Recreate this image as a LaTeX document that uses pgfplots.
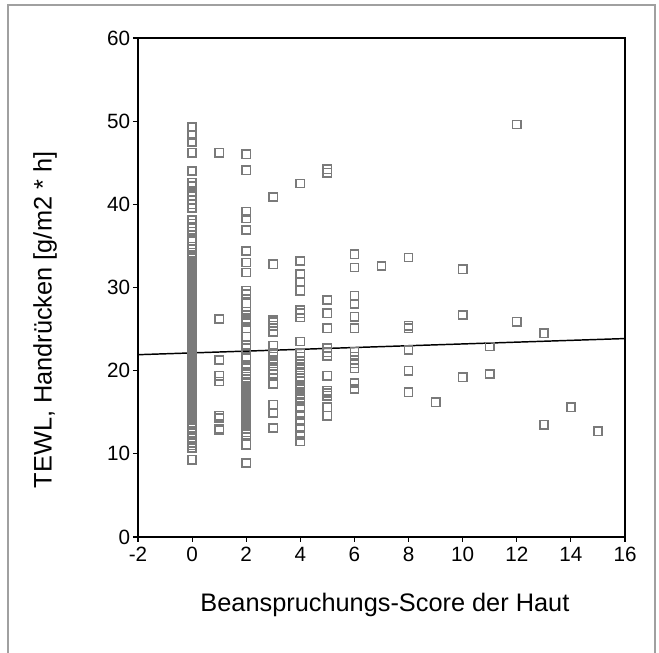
\documentclass[border=0pt]{standalone}
\usepackage{fontspec}
\setmainfont{Liberation Sans}
\usepackage{pgfplots}
\pgfplotsset{compat=1.18}
\definecolor{markgray}{HTML}{7A7A7A}
\definecolor{framegray}{HTML}{A0A0A0}
\newcommand{\tlfont}{\fontsize{15.5pt}{15.5pt}\selectfont}
\begin{document}
\begin{tikzpicture}[font=\tlfont]
\path[use as bounding box] (0,0) rectangle (494.25pt,489pt);
\draw[framegray, line width=1.5pt] (6pt,-2pt) -- (6pt,485.25pt) -- (491.25pt,485.25pt) -- (491.25pt,-2pt);
\begin{axis}[
  at={(103.5pt,86.25pt)}, anchor=south west,
  scale only axis, width=365.25pt, height=374.25pt,
  xmin=-2, xmax=16, ymin=0, ymax=60,
  xtick={-2,0,...,16}, ytick={0,10,...,60},
  xtick pos=bottom, ytick pos=left,
  tick align=outside, major tick length=3.75pt,
  tick style={black, line width=0.9pt},
  axis line style={black, line width=0.9pt},
  /pgf/number format/assume math mode=true,
  xticklabel={\tlfont\pgfmathprintnumber[int detect]{\tick}},
  yticklabel={\tlfont\pgfmathprintnumber[int detect]{\tick}},
  xticklabel style={font=\tlfont, inner sep=3.5pt},
  yticklabel style={font=\tlfont, inner sep=2pt},
  xlabel={Beanspruchungs-Score der Haut},
  ylabel={TEWL, Handrücken [g/m2 * h]},
  xlabel style={font=\fontsize{19pt}{19pt}\selectfont, at={(axis description cs:0.507,-0.1363)}, anchor=center},
  ylabel style={font=\fontsize{19pt}{19pt}\selectfont, at={(axis description cs:-0.191,0.435)}, anchor=center},
  clip=false,
]
\addplot[only marks, mark=square, mark size=3.1pt, mark options={draw=markgray, line width=1.2pt, fill=none}] table {
x y
0 49.3
0 48.3
0 47.5
0 46.2
0 44.0
0 42.6
0 42.2
0 41.5
0 41.0
0 40.5
0 40.0
0 39.6
0 38.1
0 37.7
0 37.3
0 36.7
0 35.9
0 35.6
0 34.9
0 34.6
0 34.2
0 33.8
0 33.5
0 33.2
0 32.9
0 32.6
0 32.3
0 32.0
0 31.7
0 31.4
0 31.1
0 30.8
0 30.5
0 30.2
0 29.9
0 29.6
0 29.3
0 29.0
0 28.7
0 28.4
0 28.1
0 27.8
0 27.5
0 27.2
0 26.9
0 26.6
0 26.3
0 26.0
0 25.7
0 25.4
0 25.1
0 24.8
0 24.5
0 24.2
0 23.9
0 23.6
0 23.3
0 23.0
0 22.7
0 22.4
0 22.1
0 21.8
0 21.5
0 21.2
0 20.9
0 20.6
0 20.3
0 20.0
0 19.7
0 19.4
0 19.1
0 18.8
0 18.5
0 18.2
0 17.9
0 17.6
0 17.3
0 17.0
0 16.7
0 16.4
0 16.1
0 15.8
0 15.5
0 15.2
0 14.9
0 14.6
0 14.3
0 14.0
0 13.7
0 13.4
0 13.1
0 12.8
0 12.5
0 12.2
0 11.9
0 11.6
0 11.3
0 11.0
0 10.7
0 9.3
1 46.2
1 26.2
1 21.3
1 19.4
1 18.7
1 14.6
1 14.3
1 13.0
1 12.8
2 46.0
2 44.1
2 39.1
2 38.3
2 36.9
2 34.4
2 33.0
2 31.8
2 29.6
2 29.2
2 28.1
2 27.1
2 26.7
2 26.3
2 25.9
2 25.1
2 24.1
2 23.1
2 22.7
2 21.5
2 20.7
2 20.3
2 19.9
2 19.5
2 19.0
2 18.6
2 18.2
2 17.8
2 17.4
2 17.0
2 16.6
2 16.2
2 15.8
2 15.4
2 15.0
2 14.6
2 14.2
2 13.8
2 13.4
2 13.0
2 12.6
2 12.3
2 11.1
2 8.9
3 40.9
3 32.8
3 26.1
3 25.8
3 25.4
3 24.7
3 23.0
3 22.1
3 21.7
3 21.3
3 20.9
3 20.5
3 20.1
3 19.6
3 18.4
3 15.9
3 14.9
3 13.1
4 42.5
4 33.2
4 31.6
4 30.7
4 29.6
4 27.3
4 26.9
4 26.4
4 23.5
4 22.1
4 21.7
4 21.2
4 20.8
4 20.4
4 19.7
4 19.1
4 18.7
4 18.3
4 17.9
4 17.5
4 17.1
4 16.7
4 16.3
4 15.5
4 14.7
4 13.9
4 13.1
4 12.3
4 11.5
5 44.2
5 43.8
5 28.5
5 26.9
5 25.1
5 22.7
5 22.2
5 21.8
5 19.4
5 17.6
5 17.3
5 17.0
5 15.6
5 14.6
6 34.0
6 32.4
6 29.0
6 28.0
6 26.5
6 25.1
6 22.3
6 21.7
6 21.3
6 20.9
6 20.3
6 18.5
6 17.8
7 32.6
8 33.6
8 25.4
8 25.1
8 22.5
8 20.0
8 17.4
9 16.2
10 32.2
10 26.7
10 19.2
11 22.9
11 19.6
12 49.6
12 25.9
13 24.5
13 13.5
14 15.6
15 12.7
};
\addplot[black, line width=1.1pt] coordinates {(-2,21.92) (16,23.86)};
\end{axis}
\end{tikzpicture}
\end{document}
